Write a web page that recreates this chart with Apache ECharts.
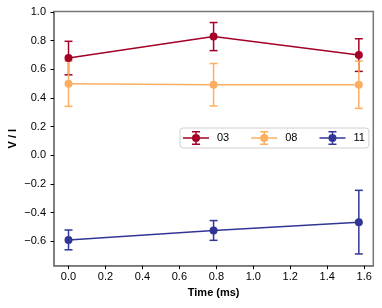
<!DOCTYPE html>
<html>
<head>
<meta charset="utf-8">
<script src="https://cdn.jsdelivr.net/npm/echarts@6/dist/echarts.min.js"></script>
<style>html,body{margin:0;padding:0;background:#fff}#c{width:382px;height:308px}</style>
</head>
<body>
<div id="c"></div>
<script>
var xValues = [0, 0.785, 1.571];
var names = ['03', '08', '11'];
var s03 = [0.679, 0.829, 0.700];
var e03 = [0.117, 0.098, 0.114];
var s08 = [0.500, 0.493, 0.493];
var e08 = [0.158, 0.148, 0.165];
var s11 = [-0.590, -0.524, -0.466];
var e11 = [0.069, 0.069, 0.222];
var xTicks = [0, 0.2, 0.4, 0.6, 0.8, 1.0, 1.2, 1.4, 1.6];
var yTicks = [-0.6, -0.4, -0.2, 0.0, 0.2, 0.4, 0.6, 0.8, 1.0];

var colors = ['#a50026', '#fdae61', '#313695'];
var means = [s03, s08, s11];
var errs = [e03, e08, e11];
var FONT = 'Liberation Sans, Arial, sans-serif';

var legendIcon = 'path://M0 6.25H26V7.75H0Z M12.25 0.75H13.75V13.25H12.25Z M9 0H17V1.5H9Z M9 12.5H17V14H9Z M9 7A4 4 0 1 1 17 7A4 4 0 1 1 9 7Z';

var series = [];
names.forEach(function (n, i) {
  var ebData = xValues.map(function (x, k) { return [x, means[i][k], errs[i][k]]; });
  series.push({
    name: n + '_err',
    type: 'custom',
    z: 1,
    silent: true,
    data: ebData,
    encode: { x: 0, y: 1 },
    renderItem: function (params, api) {
      var x = api.value(0), m = api.value(1), e = api.value(2);
      var top = api.coord([x, m + e]);
      var bot = api.coord([x, m - e]);
      var cw = 4;
      var st = { stroke: colors[i], lineWidth: 1.5 };
      return {
        type: 'group',
        children: [
          { type: 'line', shape: { x1: top[0], y1: top[1], x2: bot[0], y2: bot[1] }, style: st },
          { type: 'line', shape: { x1: top[0] - cw, y1: top[1], x2: top[0] + cw, y2: top[1] }, style: st },
          { type: 'line', shape: { x1: bot[0] - cw, y1: bot[1], x2: bot[0] + cw, y2: bot[1] }, style: st }
        ]
      };
    }
  });
});
names.forEach(function (n, i) {
  series.push({
    name: n,
    type: 'line',
    z: 2,
    data: xValues.map(function (x, k) { return [x, means[i][k]]; }),
    symbol: 'circle',
    symbolSize: 8,
    showSymbol: true,
    itemStyle: { color: colors[i] },
    lineStyle: { color: colors[i], width: 1.5 },
    emphasis: { disabled: true }
  });
});

var chart = echarts.init(document.getElementById('c'), null, { renderer: 'canvas' });
chart.setOption({
  animation: false,
  backgroundColor: '#fff',
  textStyle: { fontFamily: FONT },
  grid: { left: 54, right: 8.7, top: 11.5, bottom: 42.3, containLabel: false, outerBoundsMode: 'none',
          show: true, borderColor: '#777', borderWidth: 1.5 },
  legend: {
    data: names,
    left: 180, top: 128,
    orient: 'horizontal',
    padding: [3, 4, 3, 3],
    itemGap: 22,
    itemWidth: 26, itemHeight: 14,
    icon: legendIcon,
    itemStyle: { borderWidth: 0 },
    backgroundColor: '#fff',
    borderColor: '#d0d0d0', borderWidth: 1, borderRadius: 3,
    textStyle: { fontFamily: FONT, fontSize: 11, color: '#000', padding: [0, 0, 0, 3] },
    selectedMode: false
  },
  xAxis: {
    type: 'value',
    min: -0.0785, max: 1.6493,
    name: 'Time (ms)', nameLocation: 'middle', nameGap: 22, nameMoveOverlap: false,
    nameTextStyle: { fontFamily: FONT, fontSize: 11, fontWeight: 'bold', color: '#000' },
    axisLine: { show: true, onZero: false, lineStyle: { color: '#777', width: 1.5 } },
    axisTick: { show: true, length: 3.5, lineStyle: { color: '#000', width: 1 }, customValues: xTicks },
    axisLabel: { fontFamily: FONT, fontSize: 11, color: '#000', margin: 6, customValues: xTicks,
                 formatter: function (v) { return v.toFixed(1); } },
    splitLine: { show: false }
  },
  yAxis: {
    type: 'value',
    min: -0.77, max: 1.004,
    name: 'V / I', nameLocation: 'middle', nameGap: 36, nameRotate: 90, nameMoveOverlap: false,
    nameTextStyle: { fontFamily: FONT, fontSize: 11, fontWeight: 'bold', color: '#000' },
    axisLine: { show: true, onZero: false, lineStyle: { color: '#777', width: 1.5 } },
    axisTick: { show: true, length: 3.5, lineStyle: { color: '#000', width: 1 }, customValues: yTicks },
    axisLabel: { fontFamily: FONT, fontSize: 11, color: '#000', margin: 8, customValues: yTicks,
                 formatter: function (v) { var s = Math.abs(v).toFixed(1); return (v < -1e-9 ? '\u2212' : '') + s; } },
    splitLine: { show: false }
  },
  series: series
});
</script>
</body>
</html>
